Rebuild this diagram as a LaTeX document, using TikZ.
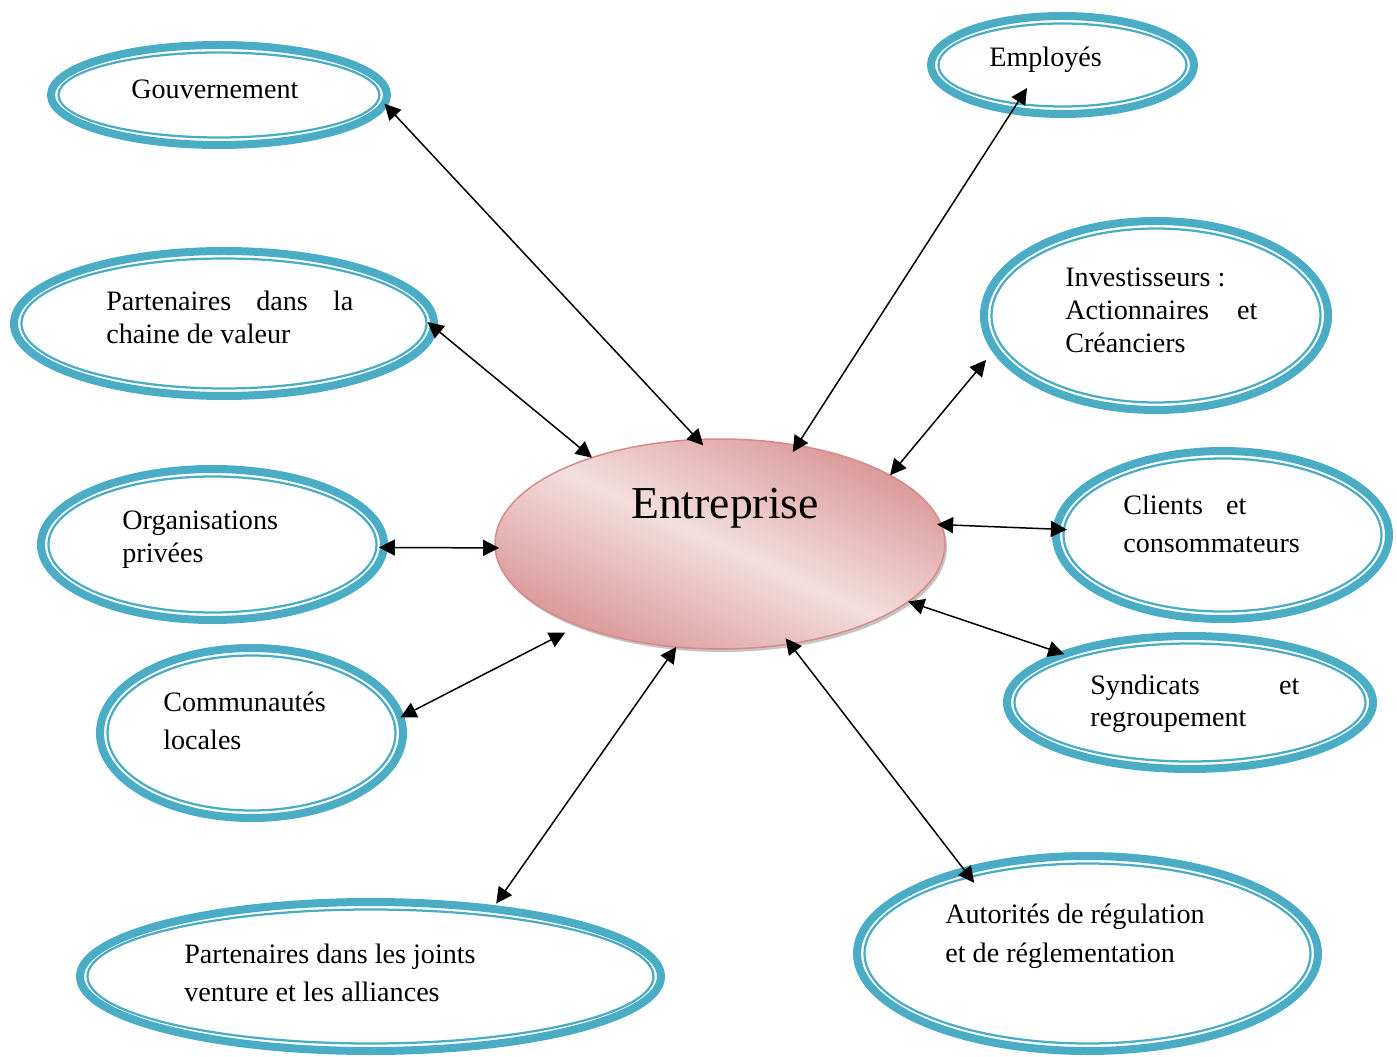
\documentclass[tikz,border=0pt]{standalone}
\usepackage{fontspec}
\setmainfont{Liberation Serif}
\usepackage{xcolor}
\definecolor{ringblue}{RGB}{75,172,198}
\definecolor{firmdark}{RGB}{217,150,148}
\definecolor{firmlight}{RGB}{243,222,222}
\definecolor{firmline}{RGB}{214,138,138}
\usetikzlibrary{arrows.meta,shapes.geometric,shadows}
\setlength{\parindent}{0pt}

\tikzset{
  ring/.style={ellipse, draw=ringblue, line width=0.16cm, inner sep=0pt, outer sep=0pt},
  ringin/.style={ellipse, draw=ringblue, line width=0.045cm, inner sep=0pt, outer sep=0pt},
  firm/.style={ellipse, draw=firmline, line width=0.03cm, inner sep=0pt, outer sep=0pt,
    top color=firmdark, bottom color=firmdark, middle color=firmlight, shading angle=-25,
    drop shadow={shadow xshift=0.04cm, shadow yshift=-0.06cm, fill=black!45, opacity=0.5}},
  lbl/.style={anchor=west, inner sep=0pt, align=left, font=\fontsize{16}{18.6}\selectfont},
  lblwide/.style={lbl, font=\fontsize{16}{21.6}\selectfont},
  link/.style={{Triangle[length=0.32cm,width=0.32cm]}-{Triangle[length=0.32cm,width=0.32cm]}, line width=0.85pt}
}

\begin{document}
\begin{tikzpicture}
  \useasboundingbox (0,0) rectangle (27.94,21.12);

  % the firm in the middle
  \node[firm, minimum width=9.0cm, minimum height=4.2cm] (ent) at (14.40,10.24) {};
  \node[font=\fontsize{26}{31}\selectfont, inner sep=0pt] (enttxt) at (14.50,10.96) {Entreprise};

  % stakeholders, left column
  \node[ring, minimum width=6.72cm, minimum height=2.00cm] (gouv) at (4.38,19.22) {};
  \node[ringin, minimum width=6.42cm, minimum height=1.70cm] (gouvin) at (gouv) {};
  \node[lbl] (gouvtxt) at (2.62,19.34) {Gouvernement};

  \node[ring, minimum width=8.40cm, minimum height=2.90cm] (cha) at (4.48,14.65) {};
  \node[ringin, minimum width=8.10cm, minimum height=2.60cm] (chain) at (cha) {};
  \node[lbl] (chatxt) at (2.12,14.77) {\makebox[4.94cm][s]{Partenaires dans la}\\chaine de valeur};

  \node[ring, minimum width=6.86cm, minimum height=3.02cm] (org) at (4.25,10.23) {};
  \node[ringin, minimum width=6.56cm, minimum height=2.72cm] (orgin) at (org) {};
  \node[lbl] (orgtxt) at (2.44,10.33) {Organisations\\privées};

  \node[ring, minimum width=6.06cm, minimum height=3.40cm] (com) at (5.03,6.46) {};
  \node[ringin, minimum width=5.76cm, minimum height=3.10cm] (comin) at (com) {};
  \node[lblwide] (comtxt) at (3.26,6.70) {Communautés\\locales};

  \node[ring, minimum width=11.62cm, minimum height=2.98cm] (joi) at (7.41,1.59) {};
  \node[ringin, minimum width=11.32cm, minimum height=2.68cm] (joiin) at (joi) {};
  \node[lblwide] (joitxt) at (3.68,1.66) {Partenaires dans les joints\\venture et les alliances};

  % stakeholders, right column
  \node[ring, minimum width=5.26cm, minimum height=1.96cm] (emp) at (21.25,19.82) {};
  \node[ringin, minimum width=4.96cm, minimum height=1.66cm] (empin) at (emp) {};
  \node[lbl] (emptxt) at (19.78,19.92) {Employés};

  \node[ring, minimum width=6.88cm, minimum height=3.78cm] (inv) at (23.12,14.81) {};
  \node[ringin, minimum width=6.58cm, minimum height=3.48cm] (invin) at (inv) {};
  \node[lbl] (invtxt) at (21.30,14.91) {Investisseurs :\\\makebox[3.84cm][s]{Actionnaires et}\\Créanciers};

  \node[ring, minimum width=6.66cm, minimum height=3.36cm] (cli) at (24.45,10.42) {};
  \node[ringin, minimum width=6.36cm, minimum height=3.06cm] (cliin) at (cli) {};
  \node[lblwide] (clitxt) at (22.46,10.64) {Clients\hspace{0.46cm}et\\consommateurs};

  \node[ring, minimum width=7.32cm, minimum height=2.66cm] (syn) at (23.80,7.07) {};
  \node[ringin, minimum width=7.02cm, minimum height=2.36cm] (synin) at (syn) {};
  \node[lbl, font=\fontsize{16}{18.1}\selectfont] (syntxt) at (21.80,7.04) {\makebox[4.18cm][s]{Syndicats et}\\regroupement};

  \node[ring, minimum width=9.22cm, minimum height=3.90cm] (aut) at (21.75,2.05) {};
  \node[ringin, minimum width=8.92cm, minimum height=3.60cm] (autin) at (aut) {};
  \node[lblwide, font=\fontsize{16}{22}\selectfont] (auttxt) at (18.90,2.39) {Autorités de régulation\\et de réglementation};

  % two-way links
  \draw[link, shorten <=-0.16cm] (ent.102) -- (gouv.-3);
  \draw[link, shorten <=-0.16cm] (ent.52) -- ([shift={(-0.71,-0.46)}]emp.center);
  \draw[link, shorten >=-0.16cm] (ent.146.5) -- (cha.-1.2);
  \draw[link] (ent.22.4) -- ([shift={(-3.40,-0.89)}]inv.center);
  \draw[link, shorten <=-0.08cm, shorten >=-0.1cm] (ent.181) -- (org.-1.3);
  \draw[link, shorten <=-0.08cm, shorten >=-0.21cm] (ent.5.3) -- (cli.178);
  \draw[link, shorten <=0.3cm] (ent.210) -- (com.6);
  \draw[link] (ent.-17.4) -- (syn.159.2);
  \draw[link, shorten >=0.13cm] (ent.247) -- (joi.29.3);
  \draw[link, shorten <=-0.14cm, shorten >=-0.3cm] (ent.-55.4) -- (aut.146.8);
\end{tikzpicture}
\end{document}
